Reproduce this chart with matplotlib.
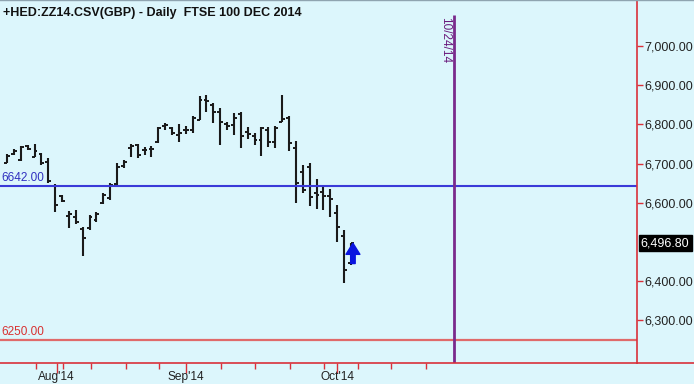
import matplotlib
matplotlib.use("Agg")
import matplotlib.pyplot as plt
from matplotlib.lines import Line2D
import matplotlib.transforms as mtransforms

plt.rcParams['font.family'] = ['Liberation Sans', 'DejaVu Sans']

# daily OHLC, FTSE 100 Dec 2014 future (bar index 0 .. 50, last bar = 3 Oct)
opens = [6702, 6724, 6709, 6745, 6717, 6724, 6704, 6643, 6617, 6566,
         6564, 6533, 6536, 6556, 6600, 6612, 6648, 6694, 6740, 6747,
         6735, 6737, 6755, 6796, 6791, 6773, 6786, 6786, 6811, 6862,
         6849, 6832, 6801, 6798, 6826, 6781, 6770, 6760, 6786, 6755,
         6806, 6816, 6740, 6678, 6691, 6625, 6627, 6617, 6574, 6515,
         6446]
highs = [6725, 6737, 6745, 6747, 6750, 6727, 6714, 6648, 6620, 6579,
         6581, 6538, 6569, 6576, 6625, 6650, 6701, 6709, 6750, 6750,
         6742, 6745, 6793, 6803, 6793, 6801, 6796, 6821, 6872, 6875,
         6855, 6842, 6806, 6829, 6832, 6793, 6778, 6793, 6793, 6796,
         6875, 6821, 6757, 6696, 6701, 6661, 6640, 6635, 6594, 6530,
         6497]
lows = [6701, 6722, 6706, 6735, 6717, 6696, 6650, 6576, 6602, 6536,
        6546, 6464, 6530, 6551, 6597, 6607, 6645, 6689, 6717, 6714,
        6722, 6717, 6752, 6786, 6773, 6755, 6775, 6778, 6811, 6832,
        6803, 6747, 6786, 6773, 6740, 6763, 6747, 6719, 6742, 6740,
        6806, 6732, 6600, 6625, 6592, 6584, 6581, 6564, 6500, 6395,
        6441]
closes = [6719, 6732, 6742, 6737, 6732, 6701, 6656, 6594, 6605, 6571,
          6551, 6510, 6564, 6571, 6620, 6645, 6691, 6704, 6745, 6722,
          6735, 6738, 6791, 6798, 6778, 6778, 6786, 6816, 6862, 6860,
          6832, 6806, 6796, 6816, 6770, 6775, 6760, 6791, 6755, 6791,
          6813, 6752, 6650, 6632, 6615, 6620, 6617, 6610, 6538, 6428,
          6496.8]

last_price = 6496.80
support = 6250.00
pivot = 6642.00
yticks = [6300, 6400, 6600, 6700, 6800, 6900, 7000]   # 6500 hidden by last-price box
month_pos = [7.2, 26, 48]
month_labels = ["Aug'14", "Sep'14", "Oct'14"]
week_pos = [4.2, 8.2, 12.2, 17.3, 22.1, 31.1, 36.0, 41.1, 46.1, 51.0, 55.9, 60.9]
event_pos = 65          # 24 Oct 2014 (expiry marker)
event_label = "10/24/14"

bg = '#dcf6fc'
red = '#d9303a'
fig = plt.figure(figsize=(6.94, 3.84), dpi=100, facecolor=bg)
ax = fig.add_axes([0, 1 - 363 / 384, 637 / 694, 363 / 384])
ax.set_facecolor(bg)

x = list(range(len(opens)))
w = 0.42
barcol = '#1a1a1a'
ax.vlines(x, lows, highs, color=barcol, lw=1.5)
ax.hlines(opens, [i - w for i in x], x, color=barcol, lw=1.4)
ax.hlines(closes, x, [i + w for i in x], color=barcol, lw=1.4)

ax.set_xlim(-1.02, 91.6)
ax.set_ylim(6191.3, 7117.3)

# reference lines
ax.axhline(pivot, color='#3a3ad8', lw=1.5, xmax=0.998)
ax.axhline(support, color='#e06a6a', lw=1.6, xmax=0.998)
ax.text(-0.85, pivot + 6, f"{pivot:.2f}", color='#3030c0', fontsize=8.5, va='bottom', ha='left')
ax.text(-0.85, support + 6, f"{support:.2f}", color='#d83030', fontsize=8.5, va='bottom', ha='left')

ax.vlines(event_pos, 6191.3, 7079, color='#7a2a8c', lw=2)
ax.text(event_pos - 1.3, 7075, event_label, rotation=-90, color='#6a1a7c',
        fontsize=8.5, ha='center', va='top')

# arrow on the last bar
ax.annotate('', xy=(x[-1] + 0.3, last_price), xytext=(x[-1] + 0.3, 6445),
            arrowprops=dict(facecolor='#0a14e0', edgecolor='#0a14e0',
                            width=3.2, headwidth=10, headlength=8))

# axes styling
for s in ['top', 'left']:
    ax.spines[s].set_visible(False)
ax.spines['right'].set_color(red)
ax.spines['bottom'].set_color(red)
ax.spines['right'].set_linewidth(1.2)
ax.spines['bottom'].set_linewidth(1.2)

ax.yaxis.tick_right()
ax.set_yticks(yticks)
ax.set_yticklabels([f"{v:,.2f}" for v in yticks])
ax.tick_params(axis='y', colors=red, labelcolor='#222222', labelsize=9, length=4, width=1, pad=1)

ax.set_xticks(month_pos)
ax.set_xticklabels(month_labels)
ax.set_xticks(week_pos, minor=True)
ax.tick_params(axis='x', which='major', colors=red, labelcolor='#222222', labelsize=8.6, length=7, width=1, pad=-1.5)
ax.tick_params(axis='x', which='minor', colors=red, length=4, width=1)

# last price box
tr = mtransforms.blended_transform_factory(ax.transAxes, ax.transData)
ax.text(1.006, last_price, f"{last_price:,.2f}", transform=tr, color='white', fontsize=9,
        va='center', ha='left', bbox=dict(boxstyle='square,pad=0.18', fc='black', ec='black'))

fig.add_artist(Line2D([637 / 694, 1], [1 - 363 / 384] * 2, color=red, lw=1.2))
fig.add_artist(Line2D([0, 1], [0.999, 0.999], color='#8fa4b0', lw=1))

fig.text(3 / 694, 1 - 13 / 384, "+HED:ZZ14.CSV(GBP) - Daily  FTSE 100 DEC 2014",
         fontsize=9, fontweight='bold', color='#111111', va='center', ha='left')

fig.savefig('out.png', dpi=100, facecolor=bg)
